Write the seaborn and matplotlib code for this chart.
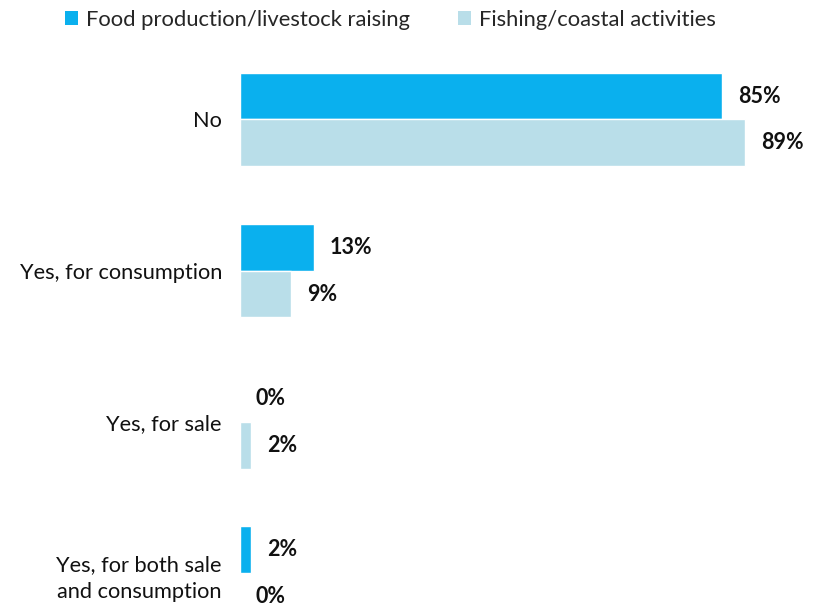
import matplotlib
matplotlib.use("Agg")
import matplotlib.pyplot as plt
from matplotlib.patches import Patch
import seaborn as sns
import pandas as pd

categories = ["No", "Yes, for consumption", "Yes, for sale",
              "Yes, for both sale\nand consumption"]
series_names = ["Food production/livestock raising", "Fishing/coastal activities"]
food_values = [85, 13, 0, 2]
fishing_values = [89, 9, 2, 0]
colors = ["#0AB0EE", "#B9DEE9"]

df = pd.DataFrame({
    "category": categories * 2,
    "series": [series_names[0]] * 4 + [series_names[1]] * 4,
    "value": food_values + fishing_values,
})

sns.set_theme(style="white")
plt.rcParams["font.family"] = ["Lato", "DejaVu Sans"]

fig = plt.figure(figsize=(8.17, 6.07), dpi=100)
ax = fig.add_axes([240 / 817, 0, 577 / 817, 1])

sns.barplot(data=df, y="category", x="value", hue="series", order=categories,
            hue_order=series_names, palette=colors, orient="h", width=0.62,
            ax=ax, legend=False, saturation=1)

ax.set_xlim(0, 577 / 5.67)
ax.set_ylim(3.225, -0.79)
for s in ax.spines.values():
    s.set_visible(False)
ax.set_xticks([])
ax.set_xlabel("")
ax.set_ylabel("")
ax.tick_params(axis="y", length=0, pad=13, labelsize=15.7)
for lbl in ax.get_yticklabels():
    lbl.set_multialignment("center")
    lbl.set_linespacing(1.45)
    lbl.set_color("#111111")

for container in ax.containers:
    for bar in container:
        w = bar.get_width()
        y = bar.get_y() + bar.get_height() / 2
        ax.annotate(f"{w:.0f}%", xy=(w, y), xytext=(16, 0),
                    textcoords="offset pixels",
                    ha="left", va="center", fontsize=15.5, fontweight="bold",
                    color="#111111", annotation_clip=False)

handles = [Patch(facecolor=c, edgecolor="none") for c in colors]
fig.legend(handles, series_names, loc="upper left", bbox_to_anchor=(52 / 817, 1.005),
           ncol=2, frameon=False, fontsize=15.8, handlelength=0.6,
           handleheight=0.6, handletextpad=0.35, columnspacing=2.2,
           borderaxespad=0.2)

fig.savefig("out.png", dpi=100)
